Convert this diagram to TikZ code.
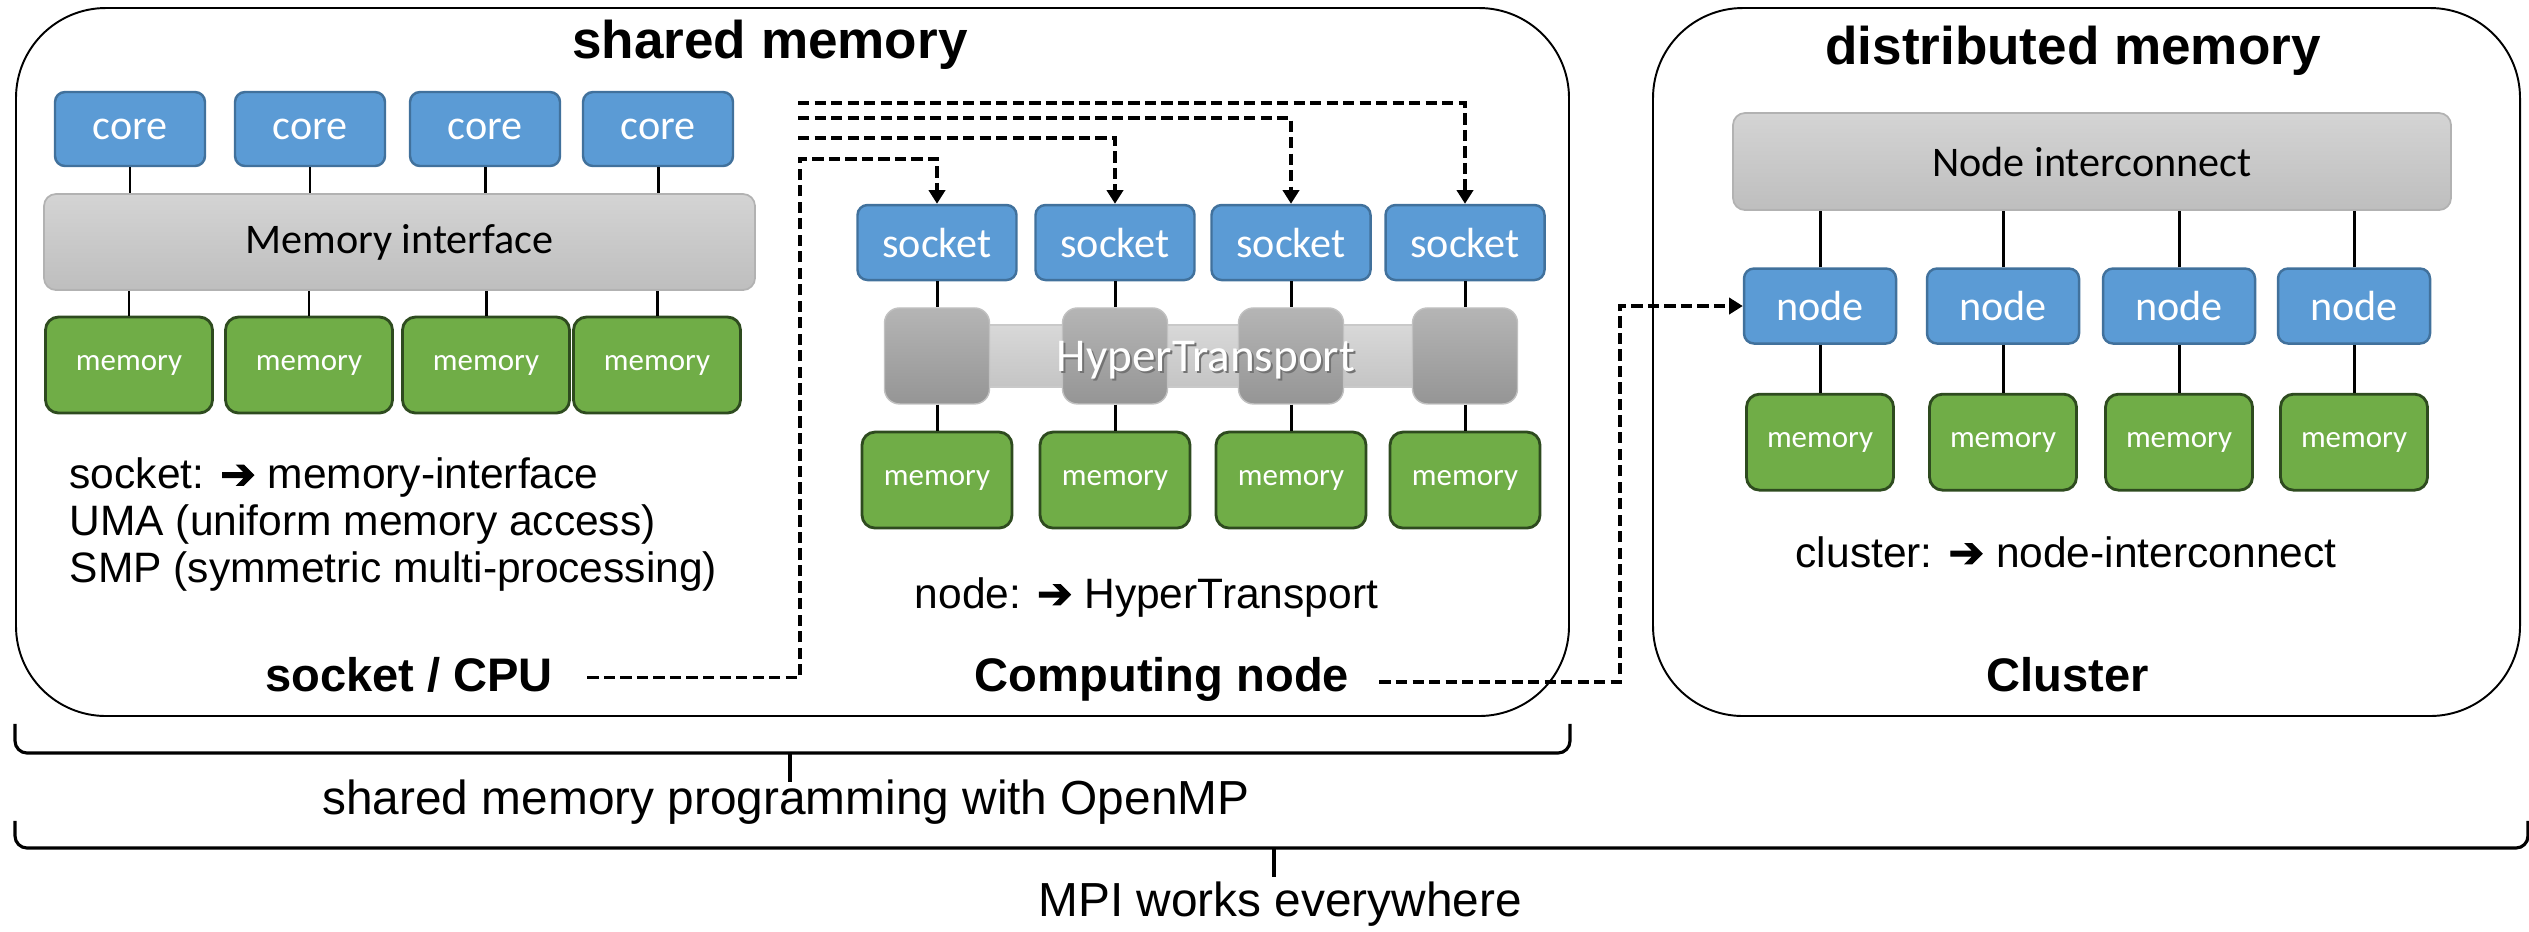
\documentclass[tikz,border=0pt]{standalone}
\usepackage{fontspec}
\setmainfont{Liberation Sans}
\newfontfamily\calfont{Carlito}
\newfontfamily\symfont[FakeBold=2.5]{DejaVu Sans}
\usetikzlibrary{arrows.meta,positioning}
\definecolor{hpInk}{HTML}{000000}
\definecolor{hpBlue}{HTML}{5B9BD5}
\definecolor{hpBlueRim}{HTML}{41719C}
\definecolor{hpGreen}{HTML}{70AD47}
\definecolor{hpGreenRim}{HTML}{2E4B1F}
\definecolor{hpGreyTop}{HTML}{D4D4D4}
\definecolor{hpGreyBot}{HTML}{BEBEBE}
\definecolor{hpGreyRim}{HTML}{B2B2B2}
\definecolor{hpPadTop}{HTML}{B5B5B5}
\definecolor{hpPadBot}{HTML}{959595}
\newcommand{\hparrow}{{\symfont ➔}}
\tikzset{
  panel/.style     ={draw=hpInk,line width=0.55pt,rounded corners=0.9cm},
  bluebox/.style   ={draw=hpBlueRim,fill=hpBlue,line width=0.7pt,rounded corners=0.1cm,
                     text=white,font=\calfont\fontsize{12}{14}\selectfont},
  corebox/.style   ={bluebox,minimum width=1.5cm,minimum height=0.74cm},
  sockbox/.style   ={bluebox,minimum width=1.59cm,minimum height=0.75cm},
  nodebox/.style   ={bluebox,minimum width=1.52cm,minimum height=0.75cm},
  mem/.style       ={draw=hpGreenRim,fill=hpGreen,line width=0.8pt,rounded corners=0.13cm,
                     text=white,font=\calfont\fontsize{8.8}{10}\selectfont,
                     minimum width=1.5cm,minimum height=0.96cm},
  bus/.style       ={draw=hpGreyRim,line width=0.5pt,rounded corners=0.12cm,
                     top color=hpGreyTop,bottom color=hpGreyBot,
                     font=\calfont\fontsize{12}{14}\selectfont},
  htbar/.style     ={draw=hpGreyRim!70,line width=0.5pt,top color=hpGreyTop!90,
                     bottom color=hpGreyBot!90,minimum width=5.4cm,minimum height=0.62cm},
  htpad/.style     ={draw=hpGreyRim!80,line width=0.4pt,rounded corners=0.15cm,
                     top color=hpPadTop,bottom color=hpPadBot,
                     minimum width=1.05cm,minimum height=0.96cm},
  htlbl/.style     ={text=white,font=\calfont\fontsize{13.4}{16}\selectfont},
  htshade/.style   ={htlbl,text=black!55},
  wire/.style      ={hpInk,line width=0.85pt},
  dflow/.style     ={-{Triangle[length=3.9pt,width=4.6pt]},hpInk,line width=1.1pt,
                     dash pattern=on 3.2pt off 1.5pt},
  head/.style      ={font=\bfseries\fontsize{15.1}{18}\selectfont},
  tag/.style       ={font=\bfseries\fontsize{13.4}{16}\selectfont},
  body/.style      ={font=\fontsize{12.1}{13.4}\selectfont,align=left,inner sep=0pt},
  bracelbl/.style  ={font=\fontsize{13.6}{16}\selectfont},
  bracket/.style   ={hpInk,line width=0.9pt,rounded corners=0.12cm},
}

\begin{document}
\begin{tikzpicture}
\useasboundingbox (0,0) rectangle (25.29,-9.31);

% the two panels
\node[panel,minimum width=15.53cm,minimum height=7.08cm] (shm) at (7.925,-3.62) {};
\node[panel,minimum width=8.67cm,minimum height=7.08cm]  (dsm) at (20.865,-3.62) {};
\node[head,anchor=base] (shmlbl) at (7.70,-0.58) {shared memory};
\node[head,anchor=base] (dsmlbl) at (20.73,-0.64) {distributed memory};

% socket: cores on one memory interface
\node[corebox] (core1) at (1.30,-1.29) {core};
\node[corebox] (core2) at (3.10,-1.29) {core};
\node[corebox] (core3) at (4.85,-1.29) {core};
\node[corebox] (core4) at (6.58,-1.29) {core};
\node[bus,minimum width=7.11cm,minimum height=0.96cm] (memif) at (3.995,-2.42) {Memory interface};
\node[mem,minimum width=1.67cm] (mem1) at (1.29,-3.65) {memory};
\node[mem,minimum width=1.67cm] (mem2) at (3.09,-3.65) {memory};
\node[mem,minimum width=1.67cm] (mem3) at (4.86,-3.65) {memory};
\node[mem,minimum width=1.67cm] (mem4) at (6.57,-3.65) {memory};
\draw[wire] (core1) -- (core1 |- memif.north);
\draw[wire] (core2) -- (core2 |- memif.north);
\draw[wire] (core3) -- (core3 |- memif.north);
\draw[wire] (core4) -- (core4 |- memif.north);
\draw[wire] (mem1) -- (mem1 |- memif.south);
\draw[wire] (mem2) -- (mem2 |- memif.south);
\draw[wire] (mem3) -- (mem3 |- memif.south);
\draw[wire] (mem4) -- (mem4 |- memif.south);

\node[body,anchor=north west] (umatxt) at (0.69,-4.57)
  {socket: \hparrow{} memory-interface\\UMA (uniform memory access)\\SMP (symmetric multi-processing)};

% computing node: sockets on HyperTransport
\node[sockbox] (sock1) at (9.37,-2.425) {socket};
\node[sockbox] (sock2) at (11.15,-2.425) {socket};
\node[sockbox] (sock3) at (12.91,-2.425) {socket};
\node[sockbox] (sock4) at (14.65,-2.425) {socket};
\node[htbar] (htbus) at (12.0,-3.56) {};
\node[htpad,below=0.26cm of sock1] (pad1) {};
\node[htpad,below=0.26cm of sock2] (pad2) {};
\node[htpad,below=0.26cm of sock3] (pad3) {};
\node[htpad,below=0.26cm of sock4] (pad4) {};
\node[htshade] at (12.08,-3.62) {HyperTransport};
\node[htlbl] (htlbl) at (12.06,-3.60) {HyperTransport};
\node[mem,below=0.26cm of pad1] (hmem1) {memory};
\node[mem,below=0.26cm of pad2] (hmem2) {memory};
\node[mem,below=0.26cm of pad3] (hmem3) {memory};
\node[mem,below=0.26cm of pad4] (hmem4) {memory};
\draw[wire] (sock1) -- (pad1);  \draw[wire] (pad1) -- (hmem1);
\draw[wire] (sock2) -- (pad2);  \draw[wire] (pad2) -- (hmem2);
\draw[wire] (sock3) -- (pad3);  \draw[wire] (pad3) -- (hmem3);
\draw[wire] (sock4) -- (pad4);  \draw[wire] (pad4) -- (hmem4);

\node[body,anchor=base west] (httxt) at (9.14,-6.08) {node: \hparrow{} HyperTransport};

% cluster: nodes on the interconnect
\node[bus,minimum width=7.18cm,minimum height=0.97cm] (nic) at (20.92,-1.615) {Node interconnect};
\node[nodebox] (node1) at (18.20,-3.06) {node};
\node[nodebox] (node2) at (20.03,-3.06) {node};
\node[nodebox] (node3) at (21.79,-3.06) {node};
\node[nodebox] (node4) at (23.54,-3.06) {node};
\node[mem,minimum width=1.47cm,below=0.48cm of node1] (cmem1) {memory};
\node[mem,minimum width=1.47cm,below=0.48cm of node2] (cmem2) {memory};
\node[mem,minimum width=1.47cm,below=0.48cm of node3] (cmem3) {memory};
\node[mem,minimum width=1.47cm,below=0.48cm of node4] (cmem4) {memory};
\draw[wire] (node1) -- (node1 |- nic.south);  \draw[wire] (node1) -- (cmem1);
\draw[wire] (node2) -- (node2 |- nic.south);  \draw[wire] (node2) -- (cmem2);
\draw[wire] (node3) -- (node3 |- nic.south);  \draw[wire] (node3) -- (cmem3);
\draw[wire] (node4) -- (node4 |- nic.south);  \draw[wire] (node4) -- (cmem4);

\node[body,anchor=base west] (nictxt) at (17.95,-5.67) {cluster: \hparrow{} node-interconnect};

% level tags and where they point
\node[tag,anchor=base] (cpulbl) at (4.09,-6.91) {socket / CPU};
\node[tag,anchor=base] (cnlbl)  at (11.62,-6.91) {Computing node};
\node[tag,anchor=base] (clulbl) at (20.68,-6.91) {Cluster};

\coordinate (cpujog) at (8.0,-1.59);
\coordinate (tail2) at (7.98,-1.38);
\coordinate (tail3) at (7.98,-1.18);
\coordinate (tail4) at (7.98,-1.03);
\draw[dflow] ([xshift=0.22cm,yshift=-0.03cm]cpulbl.east) -| (cpujog) -| (sock1.north);
\draw[dflow] (tail2) -| (sock2.north);
\draw[dflow] (tail3) -| (sock3.north);
\draw[dflow] (tail4) -| (sock4.north);
\draw[dflow] ([xshift=0.18cm,yshift=-0.03cm]cnlbl.east) -| ([xshift=-1.23cm]node1.west) -- (node1.west);

% programming models
\coordinate (ompmid) at (7.90,-7.53);
\draw[bracket] ([yshift=-0.07cm]shm.south west) |- (ompmid) -| ([yshift=-0.07cm]shm.south east);
\draw[bracket] (ompmid) -- ++(0,-0.29);
\node[bracelbl,anchor=base] (omplbl) at (7.86,-8.14) {shared memory programming with OpenMP};
\coordinate (mpimid) at (12.74,-8.48);
\draw[bracket] ([yshift=-1.04cm]shm.south west) |- (mpimid) -| ([xshift=0.07cm,yshift=-1.04cm]dsm.south east);
\draw[bracket] (mpimid) -- ++(0,-0.29);
\node[bracelbl,anchor=base] (mpilbl) at (12.80,-9.16) {MPI works everywhere};
\end{tikzpicture}
\end{document}
